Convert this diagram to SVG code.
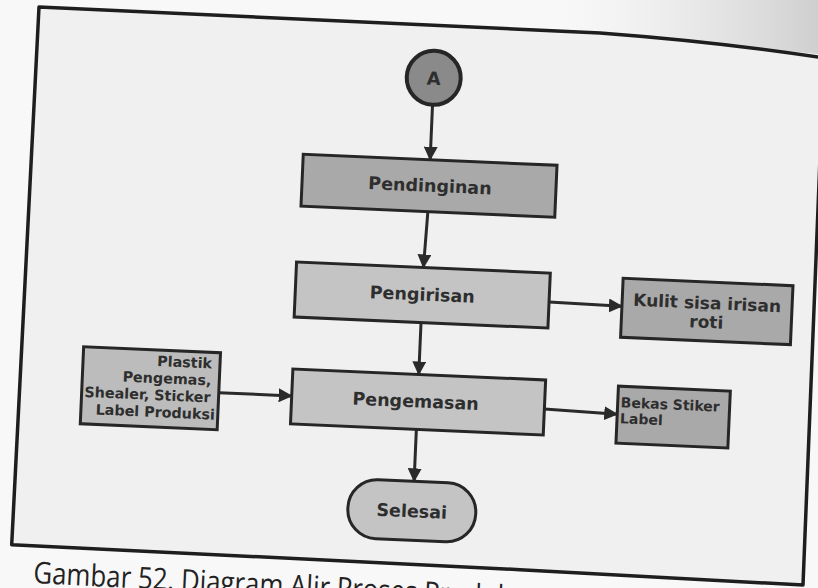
<svg xmlns="http://www.w3.org/2000/svg" width="818" height="588" viewBox="0 0 818 588">
  <defs>
    <marker id="arrow" viewBox="0 0 14 14" refX="13" refY="7" markerWidth="14" markerHeight="14" markerUnits="userSpaceOnUse" orient="auto">
      <path d="M0,0 L14,7 L0,14 Z" fill="#2a2a2a"/>
    </marker>
    <linearGradient id="shade" x1="0" y1="0" x2="1" y2="0">
      <stop offset="0" stop-color="#e6e6e6" stop-opacity="0"/>
      <stop offset="1" stop-color="#cfcfcf"/>
    </linearGradient>
    <style>
      .frame { fill: #f0f0f0; stroke: #1e1e1e; stroke-width: 3.5; stroke-linejoin: round; }
      .box { stroke: #262626; stroke-width: 3; }
      .main { fill: #c4c4c4; }
      .dark { fill: #a9a9a9; }
      .side { fill: #bcbcbc; }
      .lbl { font-family: "DejaVu Sans", Verdana, sans-serif; font-weight: bold; fill: #2e2e2e; }
      .c { text-anchor: middle; }
      .edge { stroke: #2a2a2a; stroke-width: 3; fill: none; marker-end: url(#arrow); }
      .cap { font-family: "Open Sans", "Noto Sans", sans-serif; font-size: 30px; fill: #222; }
    </style>
  </defs>

  <!-- paper -->
  <rect width="818" height="588" fill="#f8f8f8"/>
  <polygon points="560,0 818,0 818,54 560,31" fill="url(#shade)"/>

  <!-- page frame, slightly tilted and curled at the top right -->
  <path class="frame" d="M39,7 L600,33 Q720,42 824,58 L803,585 L520,569.7 L11.7,544.7 Z"/>

  <g id="diagram" transform="rotate(2.5 410 300)">
    <g id="connectors">
      <line class="edge" x1="424" y1="105" x2="424" y2="159"/>
      <line class="edge" x1="424" y1="211" x2="422" y2="267"/>
      <line class="edge" x1="549" y1="296" x2="622" y2="297"/>
      <line class="edge" x1="422" y1="322" x2="422" y2="374"/>
      <line class="edge" x1="223" y1="401" x2="296" y2="401"/>
      <line class="edge" x1="549" y1="403" x2="622" y2="405"/>
      <line class="edge" x1="422" y1="429" x2="422" y2="481"/>
    </g>

    <g id="node-a">
      <circle cx="424" cy="77" r="27" fill="#8a8a8a" stroke="#262626" stroke-width="4"/>
      <text class="lbl c" x="424" y="84" font-size="18">A</text>
    </g>

    <g id="node-pendinginan">
      <rect class="box dark" x="297" y="159" width="254" height="52"/>
      <text class="lbl c" x="425" y="191" font-size="17.5">Pendinginan</text>
    </g>

    <g id="node-pengirisan">
      <rect class="box main" x="295" y="267" width="254" height="55"/>
      <text class="lbl c" x="422" y="300" font-size="17.5">Pengirisan</text>
    </g>

    <g id="node-kulit">
      <rect class="box dark" x="622" y="269" width="170" height="59"/>
      <text class="lbl c" x="707" y="296" font-size="17">Kulit sisa irisan</text>
      <text class="lbl c" x="707" y="315" font-size="17">roti</text>
    </g>

    <g id="node-pengemasan">
      <rect class="box main" x="296" y="374" width="253" height="55"/>
      <text class="lbl c" x="420" y="407" font-size="17.5">Pengemasan</text>
    </g>

    <g id="node-plastik">
      <rect class="box side" x="86" y="361" width="137" height="77"/>
      <text class="lbl" text-anchor="end" font-size="14.3">
        <tspan x="220" y="377">Plastik</tspan>
        <tspan x="220" y="394">Pengemas,</tspan>
        <tspan x="220" y="411">Shealer, Sticker</tspan>
        <tspan x="220" y="428">Label Produksi</tspan>
      </text>
    </g>

    <g id="node-bekas">
      <rect class="box dark" x="622" y="377" width="112" height="57"/>
      <text class="lbl" font-size="14">
        <tspan x="625" y="398">Bekas Stiker</tspan>
        <tspan x="625" y="414">Label</tspan>
      </text>
    </g>

    <g id="node-selesai">
      <rect class="box main" x="357" y="481" width="128" height="59" rx="29" ry="29"/>
      <text class="lbl c" x="421" y="517" font-size="17.5">Selesai</text>
    </g>
  </g>

  <text class="cap" transform="translate(33,583) rotate(2.9)" textLength="478" lengthAdjust="spacingAndGlyphs">Gambar 52. Diagram Alir Proses Produk</text>
</svg>
